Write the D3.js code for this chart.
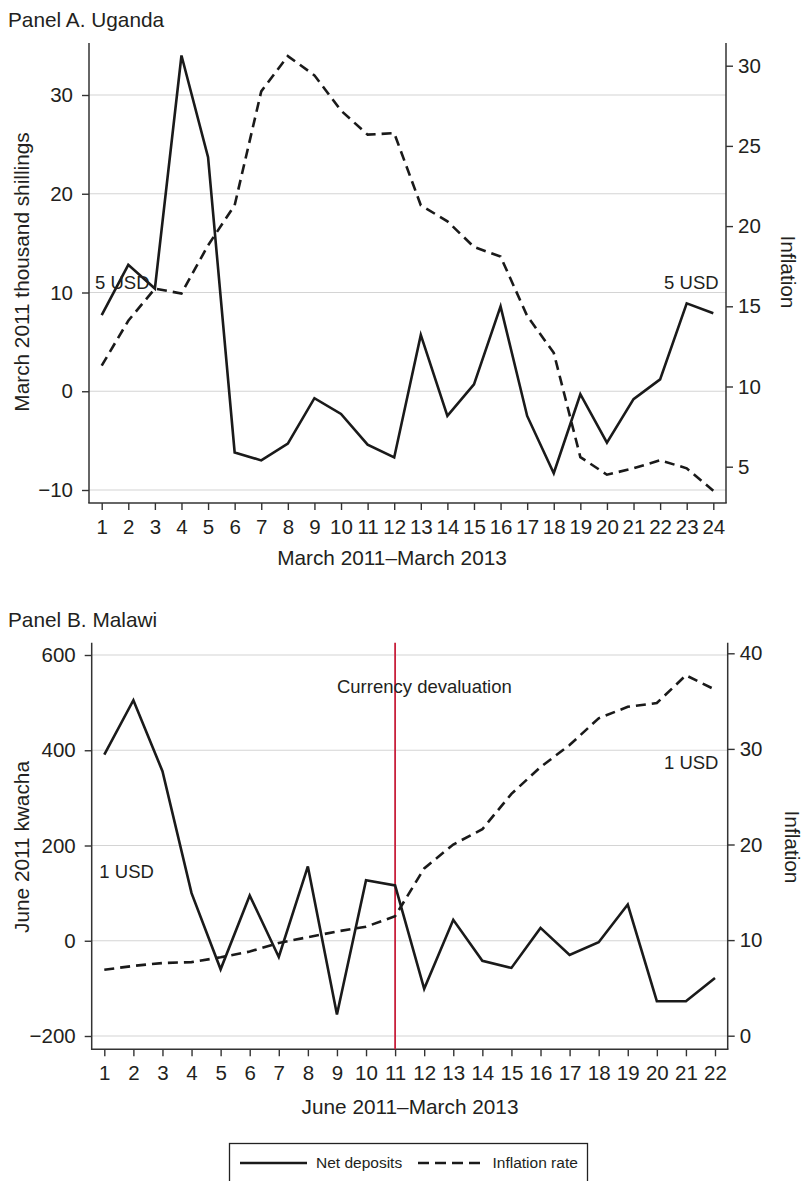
<!DOCTYPE html>
<html>
<head>
<meta charset="utf-8">
<script src="https://cdn.jsdelivr.net/npm/d3@7"></script>
<style>
    body { margin: 0; background: #fff; }
    svg { display: block; font-family: "Liberation Sans", Arial, Helvetica, sans-serif; }
</style>
</head>
<body>
<div id="chart"></div>
<script>
// Panel A - Uganda, March 2011 - March 2013
var monthsA = [1, 2, 3, 4, 5, 6, 7, 8, 9, 10, 11, 12, 13, 14, 15, 16, 17, 18, 19, 20, 21, 22, 23, 24];
var netDepositsA = [7.7, 12.8, 10.4, 34.0, 23.7, -6.2, -7.0, -5.3, -0.7, -2.3, -5.4, -6.7,
                    5.7, -2.5, 0.7, 8.6, -2.5, -8.3, -0.3, -5.2, -0.8, 1.2, 8.9, 7.9];
var inflationA = [11.3, 14.1, 16.1, 15.8, 18.8, 21.3, 28.4, 30.6, 29.4, 27.2, 25.7, 25.8,
                  21.3, 20.3, 18.7, 18.1, 14.4, 12.1, 5.6, 4.5, 4.9, 5.4, 4.9, 3.5];
var leftTicksA = [-10, 0, 10, 20, 30];
var rightTicksA = [5, 10, 15, 20, 25, 30];

// Panel B - Malawi, June 2011 - March 2013
var monthsB = [1, 2, 3, 4, 5, 6, 7, 8, 9, 10, 11, 12, 13, 14, 15, 16, 17, 18, 19, 20, 21, 22];
var netDepositsB = [391, 505, 356, 100, -60, 95, -34, 156, -155, 127, 116,
                    -101, 44, -42, -57, 27, -30, -3, 76, -127, -127, -78];
var inflationB = [6.9, 7.3, 7.6, 7.7, 8.2, 8.8, 9.7, 10.3, 10.9, 11.4, 12.5,
                  17.5, 20.0, 21.6, 25.3, 28.1, 30.4, 33.2, 34.4, 34.8, 37.7, 36.2];
var leftTicksB = [-200, 0, 200, 400, 600];
var rightTicksB = [0, 10, 20, 30, 40];
var devaluationMonth = 11;

var TEXT = "#231f20";
var LINE = "#1a1a1a";

var svg = d3.select("#chart").append("svg")
    .attr("width", 803)
    .attr("height", 1181);

function drawPanel(p) {
    var x = d3.scaleLinear().domain([p.months[0], p.months[p.months.length - 1]]).range([p.x1, p.xN]);
    var yL = d3.scaleLinear().domain(p.leftDomain).range(p.leftRange);
    var yR = d3.scaleLinear().domain(p.rightDomain).range(p.rightRange);

    var g = svg.append("g");

    // horizontal grid at the left axis ticks
    g.selectAll("line.grid").data(p.leftTicks).enter().append("line")
        .attr("class", "grid")
        .attr("x1", p.left).attr("x2", p.right)
        .attr("y1", function(d) { return yL(d); })
        .attr("y2", function(d) { return yL(d); })
        .attr("stroke", "#d4d4d4")
        .attr("stroke-width", 1.2);

    var axL = g.append("g")
        .attr("transform", "translate(" + p.left + ",0)")
        .call(d3.axisLeft(yL).tickValues(p.leftTicks).tickSize(7).tickPadding(9));
    var axR = g.append("g")
        .attr("transform", "translate(" + p.right + ",0)")
        .call(d3.axisRight(yR).tickValues(p.rightTicks).tickSize(7).tickPadding(5));
    var axB = g.append("g")
        .attr("transform", "translate(0," + p.bottom + ")")
        .call(d3.axisBottom(x).tickValues(p.months).tickFormat(d3.format("d")).tickSize(7).tickPadding(9));

    [axL, axR, axB].forEach(function(a) {
        a.select(".domain").remove();
        a.selectAll(".tick line").attr("stroke", "#333").attr("stroke-width", 1.4);
        a.selectAll(".tick text")
            .attr("fill", TEXT)
            .style("font-size", "20.5px")
            .style("font-family", "'Liberation Sans', Arial, sans-serif");
    });

    // frame lines: left, right and bottom
    g.append("line").attr("x1", p.left).attr("x2", p.left).attr("y1", p.top).attr("y2", p.bottom)
        .attr("stroke", "#333").attr("stroke-width", 1.5);
    g.append("line").attr("x1", p.right).attr("x2", p.right).attr("y1", p.top).attr("y2", p.bottom)
        .attr("stroke", "#333").attr("stroke-width", 1.5);
    g.append("line").attr("x1", p.left - 0.75).attr("x2", p.right + 0.75).attr("y1", p.bottom).attr("y2", p.bottom)
        .attr("stroke", "#333").attr("stroke-width", 1.5);

    if (p.marker) {
        g.append("line")
            .attr("x1", x(p.marker)).attr("x2", x(p.marker))
            .attr("y1", p.top).attr("y2", p.bottom)
            .attr("stroke", "#c8203c")
            .attr("stroke-width", 1.8);
    }

    var lineL = d3.line()
        .x(function(d, i) { return x(p.months[i]); })
        .y(function(d) { return yL(d); });
    var lineR = d3.line()
        .x(function(d, i) { return x(p.months[i]); })
        .y(function(d) { return yR(d); });

    g.append("path")
        .attr("d", lineR(p.inflation))
        .attr("fill", "none")
        .attr("stroke", LINE)
        .attr("stroke-width", 2.6)
        .attr("stroke-dasharray", "10,6");

    g.append("path")
        .attr("d", lineL(p.deposits))
        .attr("fill", "none")
        .attr("stroke", LINE)
        .attr("stroke-width", 2.6)
        .attr("stroke-linejoin", "miter");

    // annotations sit in data units of the left axis
    g.selectAll("text.note").data(p.notes).enter().append("text")
        .attr("class", "note")
        .attr("x", function(d) { return x(d.x); })
        .attr("y", function(d) { return yL(d.y); })
        .attr("dy", "0.35em")
        .attr("text-anchor", function(d) { return d.anchor; })
        .attr("fill", TEXT)
        .style("font-size", "18.5px")
        .text(function(d) { return d.text; });

    // titles
    g.append("text")
        .attr("x", 8).attr("y", p.titleY)
        .attr("fill", TEXT)
        .style("font-size", "20.8px")
        .text(p.title);

    g.append("text")
        .attr("transform", "translate(22," + p.midY + ") rotate(-90)")
        .attr("text-anchor", "middle")
        .attr("dy", "0.35em")
        .attr("fill", TEXT)
        .style("font-size", "20.8px")
        .text(p.leftTitle);

    g.append("text")
        .attr("transform", "translate(" + p.rightTitleX + "," + p.midY + ") rotate(90)")
        .attr("text-anchor", "middle")
        .attr("dy", "0.35em")
        .attr("fill", TEXT)
        .style("font-size", "20.8px")
        .text("Inflation");

    g.append("text")
        .attr("x", p.xTitleX).attr("y", p.xTitleY)
        .attr("text-anchor", "middle")
        .attr("fill", TEXT)
        .style("font-size", "20.8px")
        .text(p.xTitle);
}

drawPanel({
    months: monthsA, deposits: netDepositsA, inflation: inflationA,
    leftTicks: leftTicksA, rightTicks: rightTicksA,
    left: 89, right: 726, top: 43, bottom: 503,
    x1: 101.7, xN: 713.3,
    leftDomain: [-10, 30], leftRange: [490, 95],
    rightDomain: [5, 30], rightRange: [466.7, 65.7],
    title: "Panel A. Uganda", titleY: 27,
    leftTitle: "March 2011 thousand shillings", midY: 272, rightTitleX: 788,
    xTitle: "March 2011\u2013March 2013", xTitleX: 392, xTitleY: 565,
    notes: [
        { text: "5 USD", x: 0.75, y: 11, anchor: "start" },
        { text: "5 USD", x: 24.2, y: 11, anchor: "end" }
    ]
});

drawPanel({
    months: monthsB, deposits: netDepositsB, inflation: inflationB,
    leftTicks: leftTicksB, rightTicks: rightTicksB,
    left: 91.7, right: 727.7, top: 642.7, bottom: 1049.3,
    x1: 104.3, xN: 715,
    leftDomain: [-200, 600], leftRange: [1036, 655],
    rightDomain: [0, 40], rightRange: [1035.7, 653.3],
    marker: devaluationMonth,
    title: "Panel B. Malawi", titleY: 627,
    leftTitle: "June 2011 kwacha", midY: 847, rightTitleX: 792,
    xTitle: "June 2011\u2013March 2013", xTitleX: 410, xTitleY: 1114,
    notes: [
        { text: "Currency devaluation", x: 9.0, y: 533, anchor: "start" },
        { text: "1 USD", x: 0.83, y: 145, anchor: "start" },
        { text: "1 USD", x: 22.12, y: 374, anchor: "end" }
    ]
});

// legend box at the bottom, cut off by the page edge
var legend = svg.append("g");
legend.append("rect")
    .attr("x", 229.5).attr("y", 1143.5)
    .attr("width", 358).attr("height", 60)
    .attr("fill", "none")
    .attr("stroke", "#222")
    .attr("stroke-width", 1.3);
legend.append("line")
    .attr("x1", 240).attr("x2", 307).attr("y1", 1163).attr("y2", 1163)
    .attr("stroke", LINE).attr("stroke-width", 2.6);
legend.append("line")
    .attr("x1", 418).attr("x2", 483).attr("y1", 1163).attr("y2", 1163)
    .attr("stroke", LINE).attr("stroke-width", 2.6)
    .attr("stroke-dasharray", "11,6");
legend.append("text")
    .attr("x", 316).attr("y", 1163).attr("dy", "0.35em")
    .attr("fill", TEXT).style("font-size", "15.5px")
    .text("Net deposits");
legend.append("text")
    .attr("x", 492.5).attr("y", 1163).attr("dy", "0.35em")
    .attr("fill", TEXT).style("font-size", "15.5px")
    .text("Inflation rate");
</script>
</body>
</html>
